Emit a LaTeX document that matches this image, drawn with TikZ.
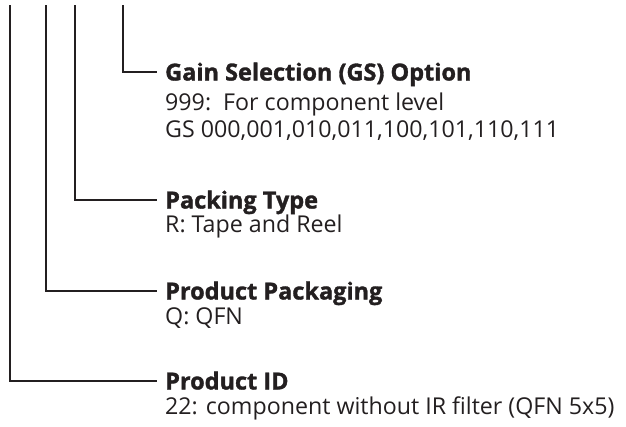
\documentclass[tikz,border=0pt]{standalone}
\usepackage{fontspec}
\setmainfont{Open Sans}
\newfontfamily\ttlfont[FakeBold=1.4]{Open Sans Bold}
\definecolor{ink}{HTML}{231F20}
\begin{document}
\begin{tikzpicture}[x=1pt,y=-1pt,
  ttl/.style={anchor=base west,inner xsep=8pt,inner ysep=0pt,font=\fontsize{23.5}{26}\ttlfont,text=ink,text height=17pt,text depth=0pt},
  bdy/.style={anchor=base west,inner xsep=0pt,inner ysep=0pt,font=\fontsize{23.2}{26}\selectfont,text=ink},
  ln/.style={draw=ink,line width=1.2pt}]
\useasboundingbox (0,0) rectangle (626,426);
% titles
\node[ttl] (gs) at (157,80.5) {Gain Selection (GS) Option};
\node[bdy] (gs1) at (165,110) {999:\ \ For component level};
\node[bdy] (gs2) at (165,137) {GS 000,001,010,011,100,101,110,111};
\node[ttl] (pt) at (157,208.5) {Packing Type};
\node[bdy] (pt1) at (165,232) {R: Tape and Reel};
\node[ttl] (pp) at (157,299.5) {Product Packaging};
\node[bdy] (pp1) at (165,324) {Q: QFN};
\node[ttl] (pid) at (157,389.5) {Product ID};
\node[bdy] (pid1) at (165,414) {22: component without IR filter (QFN 5x5)};
% top ends
\coordinate (a) at (10,5);
\coordinate (b) at (46,5);
\coordinate (c) at (75,5);
\coordinate (d) at (123,5);
\draw[ln] (d) |- (gs.west);
\draw[ln] (c) |- (pt.west);
\draw[ln] (b) |- (pp.west);
\draw[ln] (a) |- (pid.west);
\end{tikzpicture}
\end{document}
